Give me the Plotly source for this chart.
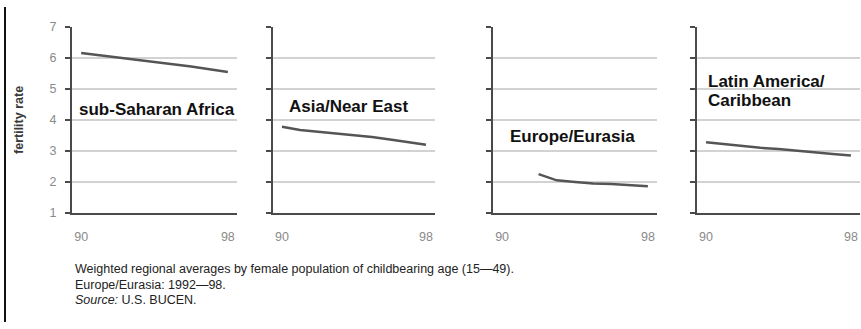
import plotly.graph_objects as go

# ---- data ----
regions = ["sub-Saharan Africa", "Asia/Near East", "Europe/Eurasia", "Latin America/\nCaribbean"]
years_full = [90, 91, 92, 93, 94, 95, 96, 97, 98]
years_eur = [92, 93, 94, 95, 96, 97, 98]
ssa = [6.16, 6.09, 6.02, 5.96, 5.89, 5.81, 5.73, 5.64, 5.55]
ane = [3.78, 3.68, 3.62, 3.57, 3.52, 3.45, 3.37, 3.28, 3.20]
eur = [2.25, 2.05, 2.00, 1.95, 1.93, 1.90, 1.86]
lac = [3.28, 3.22, 3.15, 3.10, 3.06, 3.00, 2.95, 2.90, 2.85]
x_ticks = [90, 98]
x_tick_labels = ["90", "98"]
y_ticks = [1, 2, 3, 4, 5, 6, 7]
y_title = "fertility rate"
notes = [
    "Weighted regional averages by female population of childbearing age (15\u201449).",
    "Europe/Eurasia: 1992\u201498.",
    "<i>Source:</i> U.S. BUCEN.",
]

W, H = 861, 329
series = [(years_full, ssa), (years_full, ane), (years_eur, eur), (years_full, lac)]
panels_px = [(72, 237), (273, 435), (493, 657), (697, 860)]
y_top_px, y_bot_px = 21, 215

def px_x(p):
    return p / W

def px_y(p):
    return 1 - p / H

fig = go.Figure()
layout = dict(
    width=W, height=H,
    margin=dict(l=0, r=0, t=0, b=0),
    paper_bgcolor="white", plot_bgcolor="white",
    showlegend=False,
    font=dict(family="Liberation Sans, Arial, sans-serif"),
)

for i, ((xs, ys), (x0, x1)) in enumerate(zip(series, panels_px)):
    n = "" if i == 0 else str(i + 1)
    fig.add_trace(go.Scatter(
        x=xs, y=ys, mode="lines",
        line=dict(color="#555555", width=2.5),
        xaxis="x" + n, yaxis="y" + n, hoverinfo="skip",
    ))
    layout["xaxis" + n] = dict(
        domain=[px_x(x0), px_x(x1)], range=[89.5, 98.5],
        tickvals=x_ticks, ticktext=x_tick_labels,
        showgrid=False, zeroline=False,
        showline=True, linecolor="#4a4a4a", linewidth=2,
        ticks="outside", ticklen=11, tickcolor="rgba(0,0,0,0)",
        tickfont=dict(size=12.5, color="#8a8a8a"),
        ticklabeloverflow="allow",
        anchor="y" + n, fixedrange=True,
    )
    layout["yaxis" + n] = dict(
        domain=[px_y(y_bot_px), px_y(y_top_px)], range=[1, 7],
        tickvals=y_ticks, showticklabels=(i == 0),
        showgrid=True, gridcolor="#d2d2d2", gridwidth=2,
        zeroline=False,
        showline=True, linecolor="#4a4a4a", linewidth=2,
        ticks="outside", ticklen=5, tickcolor="#4a4a4a", tickwidth=1.5,
        ticklabelstandoff=6,
        tickfont=dict(size=12.5, color="#8a8a8a"),
        anchor="x" + n, fixedrange=True,
    )

annotations = []
label_pos = [(77, 107), (287, 104), (508, 135), (706, 78)]
line_gap = 20
for txt, (lx, ly) in zip(regions, label_pos):
    for j, part in enumerate(txt.split("\n")):
        annotations.append(dict(
            text="<b>" + part + "</b>", x=px_x(lx), y=px_y(ly + j * line_gap),
            xref="paper", yref="paper", xanchor="left", yanchor="middle",
            align="left", showarrow=False,
            font=dict(size=17, color="#111111"),
        ))

annotations.append(dict(
    text="<b>" + y_title + "</b>", x=px_x(19), y=px_y(118),
    xref="paper", yref="paper", xanchor="center", yanchor="middle",
    textangle=-90, showarrow=False,
    font=dict(size=12.5, color="#3a3a3a"),
))

for k, t in enumerate(notes):
    annotations.append(dict(
        text=t, x=px_x(73), y=px_y(274 + 16 * k),
        xref="paper", yref="paper", xanchor="left", yanchor="middle",
        showarrow=False, font=dict(size=12.5, color="#222222"),
    ))

layout["annotations"] = annotations
layout["shapes"] = [dict(
    type="line", xref="paper", yref="paper",
    x0=px_x(5), x1=px_x(5), y0=0, y1=1,
    line=dict(color="#111111", width=2),
)]

fig.update_layout(**layout)
fig.write_html(
    "out.html",
    config={"displayModeBar": False},
    post_script="document.body.style.margin='0px';document.body.style.overflow='hidden';",
)
